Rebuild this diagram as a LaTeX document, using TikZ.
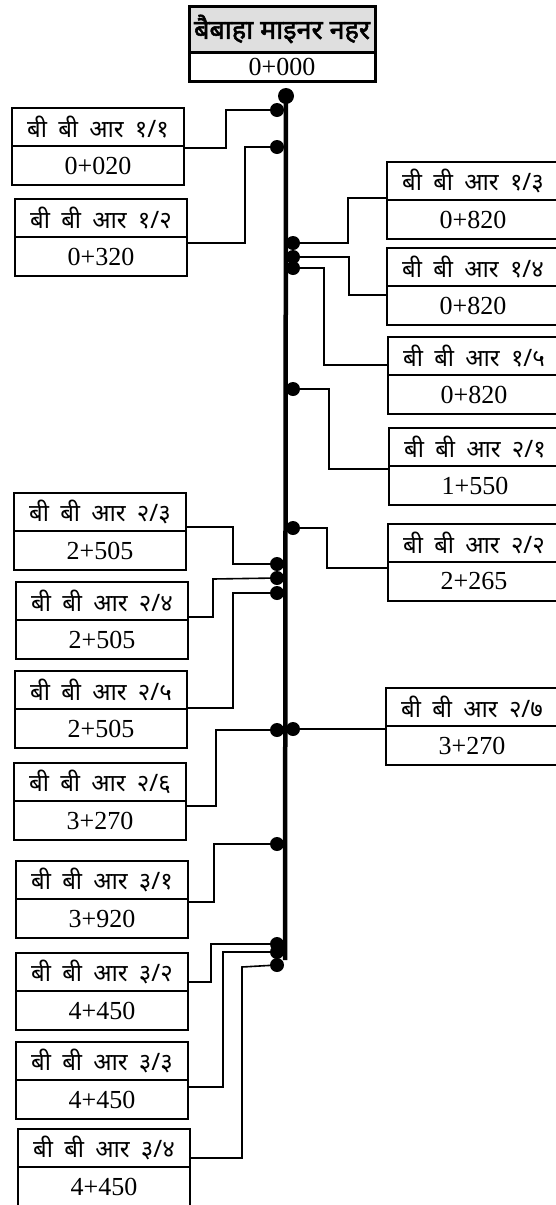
\documentclass[tikz,border=0pt]{standalone}
\usepackage{fontspec}
\setmainfont{Liberation Serif}
\newfontfamily\deva[Script=Devanagari,WordSpace=1.8]{Noto Sans}
\newfontfamily\devab[Script=Devanagari,FakeBold=2]{Noto Sans}
\usetikzlibrary{positioning}

\begin{document}
\begin{tikzpicture}[x=1pt,y=-1pt,bbr/.style={draw,line width=2pt,minimum width=172pt,minimum height=38.5pt,inner sep=0pt,outer sep=0pt,font=\deva\fontsize{24}{28}\selectfont},ch/.style={bbr,font=\fontsize{26}{30}\selectfont},wire/.style={line width=1.6pt},dot/.style={circle,fill=black,inner sep=0pt,minimum size=14pt}]
\clip (0,0) rectangle (556,1205);

% main canal
\node[draw,line width=3pt,fill=gray!25,minimum width=186pt,minimum height=46pt,inner sep=0pt,outer sep=0pt,font=\devab\fontsize{27}{30}\selectfont] (T) at (282,29) {बैबाहा माइनर नहर};
\node[draw,line width=3pt,minimum width=186pt,minimum height=29pt,inner sep=0pt,outer sep=0pt,font=\fontsize{26}{30}\selectfont,below=0pt of T] (T0) {0+000};

% left side
\node[bbr] (L11) at (98,127) {बी बी आर १/१};
\node[ch,below=0pt of L11] (C11) {0+020};
\node[bbr] (L12) at (101,218) {बी बी आर १/२};
\node[ch,below=0pt of L12] (C12) {0+320};
\node[bbr] (L23) at (100,512) {बी बी आर २/३};
\node[ch,below=0pt of L23] (C23) {2+505};
\node[bbr] (L24) at (102,601) {बी बी आर २/४};
\node[ch,below=0pt of L24] (C24) {2+505};
\node[bbr] (L25) at (101,690) {बी बी आर २/५};
\node[ch,below=0pt of L25] (C25) {2+505};
\node[bbr] (L26) at (100,782) {बी बी आर २/६};
\node[ch,below=0pt of L26] (C26) {3+270};
\node[bbr] (L31) at (102,880) {बी बी आर ३/१};
\node[ch,below=0pt of L31] (C31) {3+920};
\node[bbr] (L32) at (102,972) {बी बी आर ३/२};
\node[ch,below=0pt of L32] (C32) {4+450};
\node[bbr] (L33) at (102,1061) {बी बी आर ३/३};
\node[ch,below=0pt of L33] (C33) {4+450};
\node[bbr] (L34) at (104,1148) {बी बी आर ३/४};
\node[ch,below=0pt of L34] (C34) {4+450};

% right side
\node[bbr] (R13) at (473,181) {बी बी आर १/३};
\node[ch,below=0pt of R13] (S13) {0+820};
\node[bbr] (R14) at (473,267) {बी बी आर १/४};
\node[ch,below=0pt of R14] (S14) {0+820};
\node[bbr] (R15) at (474,356) {बी बी आर १/५};
\node[ch,below=0pt of R15] (S15) {0+820};
\node[bbr] (R21) at (475,447) {बी बी आर २/१};
\node[ch,below=0pt of R21] (S21) {1+550};
\node[bbr] (R22) at (474,543) {बी बी आर २/२};
\node[ch,below=0pt of R22] (S22) {2+265};
\node[bbr] (R27) at (472,707) {बी बी आर २/७};
\node[ch,below=0pt of R27] (S27) {3+270};

% outlets on the canal
\coordinate (E) at (285,960);
\node[dot,minimum size=16pt] (D0) at (286,96) {};
\node[dot] (D11) at (277,110) {};
\node[dot] (D12) at (277,147) {};
\node[dot] (D13) at (293,243) {};
\node[dot] (D14) at (293,257) {};
\node[dot] (D15) at (293,268) {};
\node[dot] (D21) at (293,389) {};
\node[dot] (D22) at (293,528) {};
\node[dot] (D23) at (277,564) {};
\node[dot] (D24) at (277,578) {};
\node[dot] (D25) at (277,593) {};
\node[dot] (D26) at (277,730) {};
\node[dot] (D27) at (293,729) {};
\node[dot] (D31) at (277,844) {};
\node[dot] (D32) at (277,944) {};
\node[dot] (D33) at (277,952) {};
\node[dot] (D34) at (277,965) {};

\draw[wire] (L11.east |- 0,148) -| (226,110) -- (D11);
\draw[wire] (C12.east |- 0,243) -| (245,147) -- (D12);
\draw[wire] (D13) -| (348,198) -- (R13.west |- 0,198);
\draw[wire] (D14) -| (349,295) -- (S14.west |- 0,295);
\draw[wire] (D15) -| (324,365) -- (R15.west |- 0,365);
\draw[wire] (D21) -| (329,469) -- (S21.west |- 0,469);
\draw[wire] (D22) -| (327,568) -- (S22.west |- 0,568);
\draw[wire] (L23.east |- 0,527) -| (233,564) -- (D23);
\draw[wire] (C24.east |- 0,617) -| (213,579) -- (D24);
\draw[wire] (C25.east |- 0,708) -| (233,593) -- (D25);
\draw[wire] (C26.east |- 0,806) -| (216,730) -- (D26);
\draw[wire] (D27) -- (R27.west |- 0,729);
\draw[wire] (C31.east |- 0,902) -| (214,844) -- (D31);
\draw[wire] (L32.east |- 0,982) -| (211,944) -- (D32);
\draw[wire] (C33.east |- 0,1087) -| (223,952) -- (D33);
\draw[wire] (L34.east |- 0,1158) -| (242,967) -- (D34);
\draw[line width=4.5pt] (D0.center) -- (E);
\end{tikzpicture}
\end{document}
